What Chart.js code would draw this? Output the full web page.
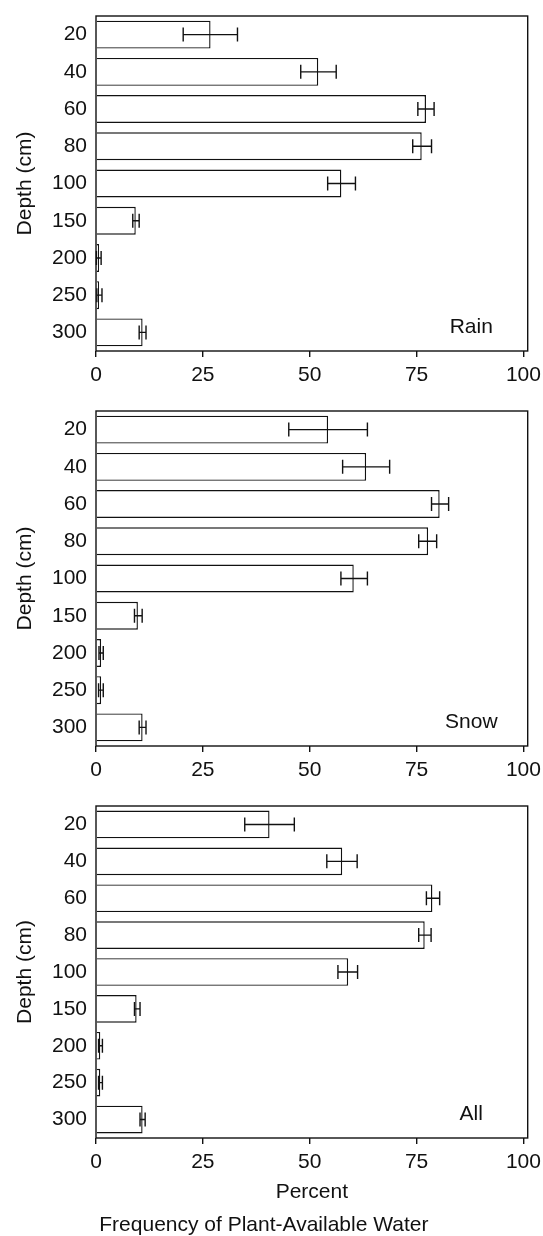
<!DOCTYPE html>
<html>
<head>
<meta charset="utf-8">
<script src="https://cdn.jsdelivr.net/npm/chart.js@4.4.0/dist/chart.umd.min.js"></script>
<style>
  body { margin: 0; background: #fff; }
  .panel { position: relative; width: 543px; }
</style>
</head>
<body>
<div class="panel" style="height:395px"><canvas id="rain"></canvas></div>
<div class="panel" style="height:395px"><canvas id="snow"></canvas></div>
<div class="panel" style="height:446px"><canvas id="all"></canvas></div>
<script>
const depths = ["20", "40", "60", "80", "100", "150", "200", "250", "300"];
const xTicks = [0, 25, 50, 75, 100];

const rainMean = [26.8, 52.0, 77.2, 76.2, 57.4, 9.3, 0.7, 0.7, 10.9];
const rainLow  = [20.4, 47.9, 75.3, 74.1, 54.2, 8.6, 0.1, 0.2, 10.1];
const rainHigh = [33.1, 56.2, 79.1, 78.5, 60.7, 10.1, 1.2, 1.4, 11.7];

const snowMean = [54.3, 63.2, 80.4, 77.7, 60.3, 9.8, 1.2, 1.2, 10.9];
const snowLow  = [45.1, 57.7, 78.5, 75.5, 57.3, 9.0, 0.7, 0.6, 10.1];
const snowHigh = [63.5, 68.7, 82.5, 79.7, 63.5, 10.8, 1.7, 1.7, 11.7];

const allMean = [40.6, 57.6, 78.7, 76.9, 59.0, 9.5, 1.0, 1.0, 10.9];
const allLow  = [34.8, 54.0, 77.3, 75.5, 56.6, 9.0, 0.6, 0.6, 10.3];
const allHigh = [46.4, 61.1, 80.4, 78.4, 61.2, 10.3, 1.5, 1.5, 11.5];

const ink = "#111111";
const fontFamily = "'Liberation Sans', Arial, Helvetica, sans-serif";
Chart.defaults.font.family = fontFamily;
Chart.defaults.font.size = 21;
Chart.defaults.color = ink;

// frame, error bars and the panel name
const extras = {
  id: "extras",
  afterDatasetsDraw(chart, args, opts) {
    const { ctx, chartArea } = chart;
    const xs = chart.scales.x;
    const ys = chart.scales.y;
    ctx.save();
    ctx.strokeStyle = ink;
    ctx.lineWidth = 1.4;
    for (let i = 0; i < depths.length; i++) {
      const y = ys.getPixelForValue(i);
      const x1 = xs.getPixelForValue(opts.low[i]);
      const x2 = xs.getPixelForValue(opts.high[i]);
      ctx.beginPath();
      ctx.moveTo(x1, y); ctx.lineTo(x2, y);
      ctx.moveTo(x1, y - 7); ctx.lineTo(x1, y + 7);
      ctx.moveTo(x2, y - 7); ctx.lineTo(x2, y + 7);
      ctx.stroke();
    }
    ctx.strokeRect(chartArea.left, chartArea.top, chartArea.right - chartArea.left, chartArea.bottom - chartArea.top);
    ctx.fillStyle = ink;
    ctx.font = "21px " + fontFamily;
    ctx.textAlign = "center";
    ctx.textBaseline = "middle";
    ctx.fillText(opts.name, xs.getPixelForValue(87.8), ys.getPixelForValue(8) - 5);
    ctx.restore();
  }
};

function makePanel(id, name, mean, low, high, last) {
  const xOpts = {
    type: "linear",
    min: 0,
    max: 101,
    afterBuildTicks: (s) => { s.ticks = xTicks.map(v => ({ value: v })); },
    afterFit: (s) => {
      s.height = last ? 77 : 44;
      s.paddingLeft = 0;
      s.paddingRight = 0;
    },
    grid: { drawOnChartArea: false, tickLength: 6, color: ink, lineWidth: 1.4 },
    border: { display: false },
    ticks: { padding: 6, maxRotation: 0, autoSkip: false }
  };
  if (last) {
    xOpts.title = { display: true, text: "Percent", padding: { top: 0, bottom: 10.4 } };
  }
  const plugins = {
    legend: { display: false },
    tooltip: { enabled: false },
    extras: { name: name, low: low, high: high }
  };
  if (last) {
    plugins.title = {
      display: true,
      position: "bottom",
      text: "Frequency of Plant-Available Water",
      font: { size: 21, weight: "normal", lineHeight: 1 },
      color: ink,
      padding: { top: 0, bottom: 0 }
    };
  }
  new Chart(document.getElementById(id), {
    type: "bar",
    data: {
      labels: depths,
      datasets: [{
        data: mean,
        backgroundColor: "#ffffff",
        borderColor: ink,
        borderWidth: 1.4,
        barPercentage: 0.75,
        categoryPercentage: 1
      }]
    },
    options: {
      indexAxis: "y",
      responsive: true,
      maintainAspectRatio: false,
      animation: false,
      layout: { padding: { top: 16, right: 15.3, left: 0, bottom: 0 } },
      scales: {
        x: xOpts,
        y: {
          type: "category",
          afterFit: (s) => {
            s.width = 96;
            s.paddingTop = 0;
            s.paddingBottom = 0;
          },
          grid: { display: false, drawTicks: false },
          border: { display: false },
          ticks: { padding: 9 },
          title: { display: true, text: "Depth (cm)", padding: { top: 12.4, bottom: 0 } }
        }
      },
      plugins: plugins
    },
    plugins: [extras]
  });
}

makePanel("rain", "Rain", rainMean, rainLow, rainHigh, false);
makePanel("snow", "Snow", snowMean, snowLow, snowHigh, false);
makePanel("all", "All", allMean, allLow, allHigh, true);
</script>
</body>
</html>
